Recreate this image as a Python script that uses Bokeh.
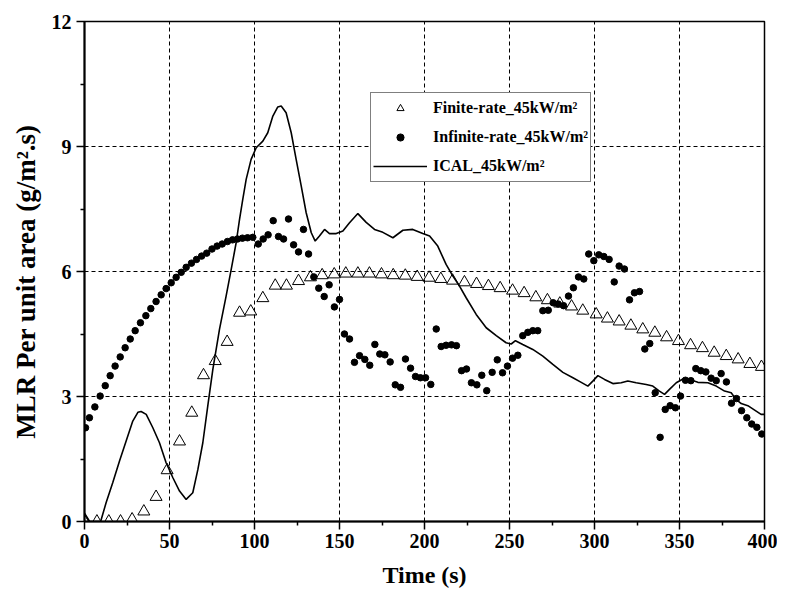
from bokeh.plotting import figure
from bokeh.models import Legend, LegendItem, FixedTicker
from bokeh.embed import file_html
from bokeh.resources import INLINE

# ---------------- data ----------------
finite_t = [0, 7.3, 14.3, 21.2, 28, 34.9, 42.1, 48.6, 55.9, 63.1, 70, 76.9, 83.9, 91.2, 97.8,
            104.9, 112.2, 118.8, 125.9, 132.9, 139.8, 146.9, 153.7, 160.8, 167.6, 174.7, 181.6,
            188.7, 195.7, 202.7, 209.6, 216.5, 223.5, 230.6, 237.6, 244.5, 251.8, 258.6, 265.5,
            272.3, 279.6, 286.5, 293.1, 301.0, 307.6, 314.5, 321.4, 328.4, 335.5, 342.4, 349.4,
            356.5, 363.5, 370.4, 377.5, 384.5, 391.4, 398.2]
finite_v = [0, 0, 0, 0, 0.05, 0.24, 0.59, 1.23, 1.92, 2.61, 3.51, 3.85, 4.31, 5.01, 5.04,
            5.36, 5.66, 5.66, 5.77, 5.86, 5.91, 5.93, 5.95, 5.95, 5.95, 5.93, 5.91,
            5.90, 5.87, 5.85, 5.82, 5.78, 5.74, 5.70, 5.65, 5.60, 5.54, 5.48, 5.38,
            5.31, 5.23, 5.16, 5.06, 4.97, 4.87, 4.80, 4.70, 4.61, 4.53, 4.42, 4.33,
            4.23, 4.16, 4.05, 3.97, 3.89, 3.78, 3.71]

infinite_t = [0.6, 2.9, 6.1, 9.2, 12.2, 15.1, 18.0, 21.0, 23.9, 26.9,
              29.8, 32.9, 36.1, 39.0, 42.1, 45.1, 48.0, 51.0, 53.9, 56.9,
              59.8, 62.9, 65.9, 68.9, 71.9, 75.0, 78.0, 81.0, 84.1, 87.1,
              90.0, 92.9, 95.9, 99.0, 102.2, 105.1, 108.0, 111.0, 114.1, 117.1,
              120.0, 123.0, 125.9, 128.8, 131.8, 134.9, 137.8, 141.0, 143.9, 147.0,
              150.0, 152.9, 155.9, 158.8, 161.8, 164.9, 167.8, 170.8, 173.7, 176.7,
              179.8, 182.8, 185.9, 188.8, 191.8, 194.7, 197.6, 200.6, 203.7, 206.9,
              209.8, 212.7, 215.9, 218.8, 221.8, 224.7, 227.6, 230.8, 233.7, 236.6,
              239.8, 242.8, 245.9, 248.8, 251.8, 254.9, 257.8, 260.8, 263.7, 266.6,
              269.6, 272.8, 275.7, 278.6, 281.8, 284.7, 287.6, 290.6, 293.7, 296.6,
              299.6, 302.5, 305.5, 308.6, 311.6, 314.5, 317.6, 320.6, 323.5, 326.5,
              329.6, 332.5, 335.7, 338.6, 341.6, 344.5, 347.6, 350.6, 353.5, 356.7,
              359.6, 362.5, 365.5, 368.6, 371.6, 374.5, 377.6, 380.6, 383.5, 386.5,
              389.6, 392.5, 395.5, 398.4]
infinite_v = [2.25, 2.49, 2.75, 3.01, 3.26, 3.50, 3.73, 3.95, 4.17, 4.38,
              4.58, 4.77, 4.94, 5.11, 5.28, 5.44, 5.59, 5.73, 5.86, 5.98,
              6.10, 6.20, 6.29, 6.37, 6.44, 6.54, 6.61, 6.66, 6.72, 6.76,
              6.78, 6.80, 6.81, 6.82, 6.66, 6.78, 6.88, 7.22, 6.84, 6.78,
              7.26, 6.64, 6.47, 7.01, 6.42, 5.87, 5.60, 5.40, 5.68, 5.15,
              5.33, 4.50, 4.38, 3.82, 3.98, 3.89, 3.75, 4.25, 4.02, 4.00,
              3.83, 3.28, 3.22, 3.90, 3.68, 3.48, 3.45, 3.45, 3.29, 4.62,
              4.20, 4.23, 4.24, 4.22, 3.62, 3.66, 3.33, 3.28, 3.51, 3.14,
              3.58, 3.88, 3.57, 3.73, 3.92, 3.99, 4.46, 4.54, 4.58, 4.58,
              5.06, 5.07, 5.25, 5.22, 5.18, 5.41, 5.61, 5.87, 5.82, 6.42,
              6.26, 6.40, 6.36, 6.29, 5.75, 6.13, 6.06, 5.32, 5.49, 5.52,
              4.14, 4.27, 3.09, 2.02, 2.69, 2.78, 2.73, 3.01, 3.39, 3.38,
              3.67, 3.62, 3.59, 3.44, 3.38, 3.55, 3.35, 2.84, 2.95, 2.66,
              2.49, 2.34, 2.26, 2.10]

ical_t = [0, 3, 9.5, 12.7, 16.6, 20.6, 24.5, 28.4, 31.4, 33.3,
          36.3, 40.2, 44.1, 48.0, 52.0, 55.9, 59.8, 63.7, 66.7, 69.6,
          72.5, 75.5, 79.4, 83.3, 86.3, 89.2, 91.2, 93.1, 95.1, 98.0,
          101.0, 104.9, 107.8, 110.8, 113.7, 115.7, 118.6, 121.6, 124.5, 127.5,
          130.4, 133.4, 135.7, 138.2, 141.2, 144.1, 148.1, 152.0, 155.9, 160.8,
          165.7, 170.6, 175.5, 181.4, 187.3, 193.1, 199.0, 203.0, 207.8, 212.7,
          216.7, 220.6, 224.5, 230.4, 236.3, 242.2, 248.0, 251.0, 253.5, 257.8,
          263.7, 269.6, 275.5, 281.4, 287.3, 292.2, 296.1, 299.0, 302.0, 305.9,
          310.8, 315.7, 319.6, 324.5, 330.4, 334.3, 338.2, 341.2, 344.1, 348.1,
          352.0, 355.9, 360.8, 366.7, 371.6, 376.5, 380.4, 383.3, 386.3, 390.2,
          395.1, 398.0, 400.0]
ical_v = [0.2, 0.0, 0.0, 0.45, 0.93, 1.45, 1.93, 2.41, 2.62, 2.64,
          2.57, 2.25, 1.89, 1.41, 1.05, 0.73, 0.53, 0.69, 1.25, 1.89,
          2.77, 3.65, 4.61, 5.41, 6.05, 6.69, 7.25, 7.73, 8.21, 8.69,
          8.97, 9.13, 9.33, 9.73, 9.95, 9.97, 9.81, 9.33, 8.69, 8.05,
          7.41, 6.93, 6.73, 6.85, 7.01, 6.91, 6.91, 6.97, 7.17, 7.39,
          7.18, 7.01, 6.94, 6.81, 6.99, 7.01, 6.91, 6.85, 6.61, 6.17,
          5.89, 5.65, 5.37, 4.97, 4.65, 4.46, 4.29, 4.26, 4.34, 4.25,
          4.13, 3.97, 3.77, 3.58, 3.45, 3.34, 3.25, 3.37, 3.50, 3.41,
          3.31, 3.33, 3.37, 3.33, 3.29, 3.25, 3.13, 3.05, 3.17, 3.33,
          3.42, 3.41, 3.34, 3.33, 3.25, 3.13, 3.09, 2.93, 2.83, 2.78,
          2.65, 2.57, 2.57]

x_ticks = [0, 50, 100, 150, 200, 250, 300, 350, 400]
x_minor = [25, 75, 125, 175, 225, 275, 325, 375]
y_ticks = [0, 3, 6, 9, 12]
y_minor = [1.5, 4.5, 7.5, 10.5]

labels = ["Finite-rate_45kW/m\u00b2", "Infinite-rate_45kW/m\u00b2", "ICAL_45kW/m\u00b2"]

FONT = "Liberation Serif"

# ---------------- figure ----------------
p = figure(width=777, height=590, x_range=(0, 400), y_range=(0, 12),
           output_backend="svg", toolbar_location=None,
           min_border_left=84, min_border_right=13, min_border_top=21, min_border_bottom=69)
p.background_fill_color = "white"
p.border_fill_color = "white"
p.outline_line_color = "black"
p.outline_line_width = 1.5
p.outline_line_alpha = 1.0

for ax in (p.xaxis[0], p.yaxis[0]):
    ax.axis_line_width = 2
    ax.axis_line_color = "black"
    ax.major_tick_line_width = 1.5
    ax.minor_tick_line_width = 1.5
    ax.major_tick_line_color = "black"
    ax.minor_tick_line_color = "black"
    ax.major_tick_in = 0
    ax.major_tick_out = 8
    ax.minor_tick_in = 0
    ax.minor_tick_out = 4
    ax.major_label_text_font = FONT
    ax.major_label_text_font_style = "bold"
    ax.major_label_text_font_size = "20px"
    ax.major_label_text_color = "black"
    ax.axis_label_text_font = FONT
    ax.axis_label_text_font_style = "bold"
    ax.axis_label_text_color = "black"

p.xaxis.ticker = FixedTicker(ticks=x_ticks, minor_ticks=x_minor)
p.yaxis.ticker = FixedTicker(ticks=y_ticks, minor_ticks=y_minor)
p.xaxis.axis_label = "Time (s)"
p.yaxis.axis_label = "MLR Per unit area (g/m\u00b2.s)\u00a0\u00a0\u00a0"
p.xaxis.axis_label_text_font_size = "24px"
p.yaxis.axis_label_text_font_size = "27px"
p.xaxis.major_label_standoff = 4
p.yaxis.major_label_standoff = 5
p.xaxis.axis_label_standoff = 11
p.yaxis.axis_label_standoff = 8

for g in (p.xgrid[0], p.ygrid[0]):
    g.grid_line_color = "black"
    g.grid_line_dash = "4 3"
    g.grid_line_width = 1
    g.grid_line_alpha = 1.0

r_fin = p.scatter(finite_t, finite_v, marker="triangle", size=12,
                  line_color="black", line_width=1, fill_alpha=0)
r_inf = p.scatter(infinite_t, infinite_v, marker="circle", size=6.5,
                  line_color="black", fill_color="black")
r_ical = p.line(ical_t, ical_v, line_color="black", line_width=1.6)

legend = Legend(items=[LegendItem(label=labels[0], renderers=[r_fin]),
                       LegendItem(label=labels[1], renderers=[r_inf]),
                       LegendItem(label=labels[2], renderers=[r_ical])],
                location=(286, 339))
legend.label_text_font = FONT
legend.label_text_font_style = "bold"
legend.label_text_font_size = "16px"
legend.label_text_color = "black"
legend.border_line_color = "black"
legend.border_line_width = 1
legend.background_fill_alpha = 1
legend.padding = 2
legend.margin = 0
legend.spacing = 3
legend.glyph_width = 54
legend.glyph_height = 18
legend.label_height = 26
legend.label_standoff = 6
p.add_layout(legend, "center")

open("out.html", "w").write(file_html(p, INLINE))
